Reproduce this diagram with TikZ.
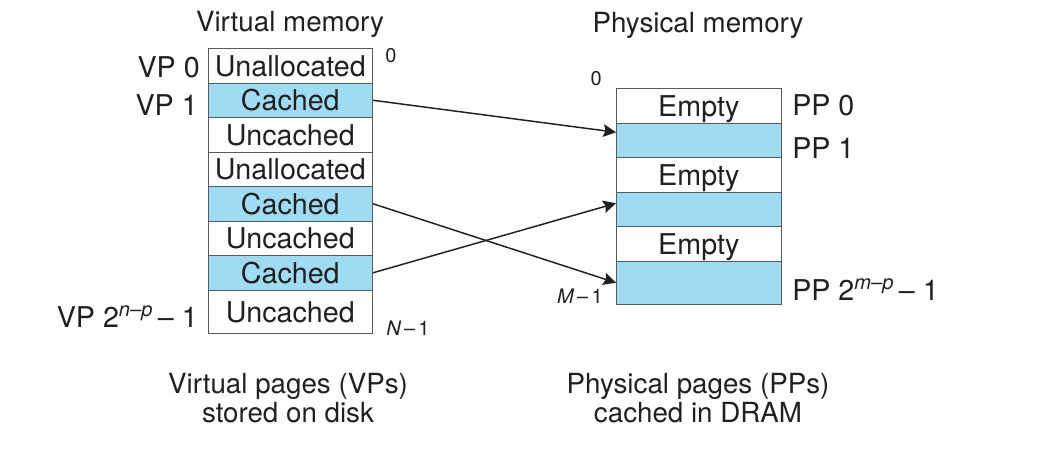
\documentclass[tikz,border=0pt]{standalone}
\usepackage{fontspec}
\setmainfont{TeX Gyre Heros}
\usepackage{xcolor}
\usetikzlibrary{arrows.meta}
\definecolor{cachedblue}{RGB}{159,220,243}
\definecolor{inkgray}{RGB}{35,31,32}
\definecolor{rulegray}{RGB}{88,89,91}

\begin{document}
\begin{tikzpicture}[x=0.75pt,y=0.75pt,yscale=-1,xscale=1,
  cell/.style={draw=rulegray,line width=0.75pt,anchor=north west,inner sep=0pt,
    minimum width=123.4pt,minimum height=25.9pt,text height=15.4pt,text depth=0pt,
    text=inkgray,font=\fontsize{21.5}{25}\selectfont},
  lastcell/.style={cell,minimum height=32.6pt},
  cached/.style={fill=cachedblue},
  lbl/.style={inner sep=0pt,text=inkgray,font=\fontsize{21.5}{25}\selectfont},
  heading/.style={inner sep=0pt,text=inkgray,align=center,font=\fontsize{20.8}{21.75}\selectfont},
  small/.style={inner sep=0pt,text=inkgray,font=\fontsize{15}{17}\selectfont},
  maparrow/.style={draw=inkgray,line width=1.1pt,-{Stealth[length=9.5pt,width=9.5pt,inset=1.5pt]}}]
\useasboundingbox (0,0) rectangle (1040,454);
% Virtual memory column
\node[cell] (v0) at (207.5,48) {Unallocated};
\node[cell,cached] (v1) at (207.5,82.5) {Cached};
\node[cell] (v2) at (207.5,117) {Uncached};
\node[cell] (v3) at (207.5,151.5) {Unallocated};
\node[cell,cached] (v4) at (207.5,186) {Cached};
\node[cell] (v5) at (207.5,220.5) {Uncached};
\node[cell,cached] (v6) at (207.5,255) {Cached};
\node[lastcell] (v7) at (207.5,289.5) {Uncached};
% Physical memory column
\node[cell] (p0) at (616,88) {Empty};
\node[cell,cached] (p1) at (616,122.5) {};
\node[cell] (p2) at (616,157) {Empty};
\node[cell,cached] (p3) at (616,191.5) {};
\node[cell] (p4) at (616,226) {Empty};
\node[lastcell,cached] (p5) at (616,260.5) {};
% Headings
\node[heading,anchor=base] (vtitle) at (290,31) {Virtual memory};
\node[heading,anchor=base] (ptitle) at (698,32) {Physical memory};
\node[heading,anchor=base] (vcaption) at (288,422) {Virtual pages (VPs)\\stored on disk};
\node[heading,anchor=base] (pcaption) at (698,422) {Physical pages (PPs)\\cached in DRAM};
% Page labels
\node[lbl,anchor=base east] (vp0) at (200,77) {VP 0};
\node[lbl,anchor=base east] (vp1) at (198,115) {VP 1};
\node[lbl,anchor=base east] (vplast) at (198,327) {VP 2\textsuperscript{\itshape n–p}\,– 1};
\node[lbl,anchor=base west] (pp0) at (792,115) {PP 0};
\node[lbl,anchor=base west] (pp1) at (792,158) {PP 1};
\node[lbl,anchor=base west] (pplast) at (792,300) {PP 2\textsuperscript{\itshape m–p}\,– 1};
% Addresses
\node[small,anchor=base west] (vzero) at (385,62) {0};
\node[small,anchor=base west] (vtop) at (386,335) {\itshape N\,\upshape–\,1};
\node[small,anchor=base east] (pzero) at (602,85) {0};
\node[small,anchor=base east] (ptop) at (603,303) {\itshape M\,\upshape–\,1};
% Mappings
\draw[maparrow] (v1.east) -- ([yshift=-6pt]p1.west);
\draw[maparrow] (v4.east) -- (p5.west);
\draw[maparrow] (v6.east) -- ([yshift=-4.5pt]p3.west);
\end{tikzpicture}
\end{document}
